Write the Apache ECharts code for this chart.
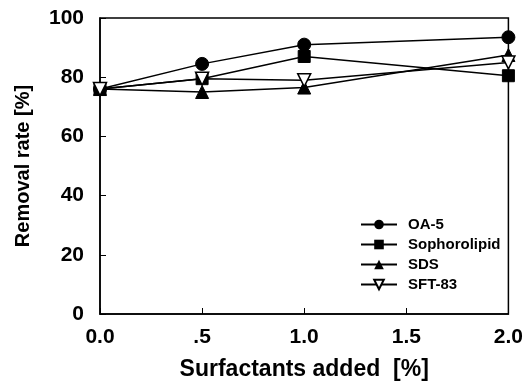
<!DOCTYPE html>
<html><head><meta charset="utf-8">
<script src="https://cdn.jsdelivr.net/npm/echarts@6/dist/echarts.min.js"></script>
<style>html,body{margin:0;padding:0;background:#fff}#c{width:526px;height:386px}</style>
</head><body><div id="c"></div>
<script>
const xValues = [0, 0.5, 1.0, 2.0];
const oa5 = [76, 84.5, 91, 93.5];
const sophorolipid = [76, 79.5, 87, 80.5];
const sds = [76, 75, 76.5, 87.5];
const sft83 = [76, 79.5, 79, 85];
const xTickLabels = {0: '0.0', 0.5: '.5', 1: '1.0', 1.5: '1.5', 2: '2.0'};

const pair = arr => xValues.map((x, i) => [x, arr[i]]);
const font = 'Liberation Sans, Arial, sans-serif';
const lineStyle = {color: '#000', width: 1.5};
function ser(name, data, symbol, size, filled, rot) {
  return {
    name, type: 'line', data: pair(data), symbol, symbolSize: size,
    symbolRotate: rot || 0,
    lineStyle, z: 3,
    itemStyle: filled ? {color: '#000', borderColor: '#000'} : {color: '#fff', borderColor: '#000', borderWidth: 1.5},
    emphasis: {disabled: true}, animation: false
  };
}
const chart = echarts.init(document.getElementById('c'));
chart.setOption({
  animation: false,
  grid: {left: 100, right: 16, top: 18, bottom: 71, show: true, borderColor: '#000', borderWidth: 1.5},
  legend: {
    orient: 'vertical', left: 360, top: 217, padding: 0, itemGap: 5, itemWidth: 36, itemHeight: 12,
    textStyle: {fontFamily: font, fontWeight: 'bold', fontSize: 15, lineHeight: 14, color: '#000', padding: [0, 0, 0, 6]},
    data: ['OA-5', 'Sophorolipid', 'SDS', 'SFT-83']
  },
  xAxis: {
    type: 'value', min: 0, max: 2, interval: 0.5,
    name: 'Surfactants added  [%]', nameLocation: 'middle', nameGap: 44,
    nameTextStyle: {fontFamily: font, fontWeight: 'bold', fontSize: 23, color: '#000'},
    axisLine: {lineStyle: {color: '#000', width: 1.5}},
    axisTick: {inside: true, length: 6, lineStyle: {color: '#000'}},
    splitLine: {show: false},
    axisLabel: {fontFamily: font, fontWeight: 'bold', fontSize: 21, color: '#000', margin: 13,
      formatter: v => xTickLabels[v] !== undefined ? xTickLabels[v] : String(v)}
  },
  yAxis: {
    type: 'value', min: 0, max: 100, interval: 20,
    name: 'Removal rate [%]', nameLocation: 'middle', nameGap: 67,
    nameTextStyle: {fontFamily: font, fontWeight: 'bold', fontSize: 20, color: '#000'},
    axisLine: {show: true, lineStyle: {color: '#000', width: 1.5}},
    axisTick: {show: true, inside: true, length: 6, lineStyle: {color: '#000'}},
    splitLine: {show: false},
    axisLabel: {fontFamily: font, fontWeight: 'bold', fontSize: 21, color: '#000', margin: 16}
  },
  series: [
    ser('OA-5', oa5, 'circle', 13, true),
    ser('Sophorolipid', sophorolipid, 'rect', 12, true),
    ser('SDS', sds, 'triangle', 13, true),
    ser('SFT-83', sft83, 'triangle', 13, false, 180)
  ]
});
</script></body></html>
